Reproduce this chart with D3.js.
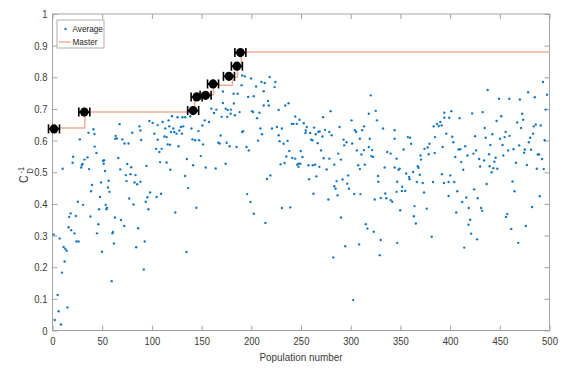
<!DOCTYPE html>
<html><head><meta charset="utf-8">
<script src="https://cdn.jsdelivr.net/npm/d3@7/dist/d3.min.js"></script>
<style>body{margin:0;background:#fff}svg{display:block}</style>
</head><body><svg id="c" width="579" height="372"></svg>
<script>
// ---------------- data ----------------
const xTicks = [0, 50, 100, 150, 200, 250, 300, 350, 400, 450, 500];
const yTicks = [0, 0.1, 0.2, 0.3, 0.4, 0.5, 0.6, 0.7, 0.8, 0.9, 1];
const yTickLabels = ["0", "0.1", "0.2", "0.3", "0.4", "0.5", "0.6", "0.7", "0.8", "0.9", "1"];
const xLabel = "Population number";
const legendLabels = ["Average", "Master"];

// "Average" series: [population number, C_D^-1]
const averageData = [
[2.2,0.033],[6.2,0.061],[8.5,0.019],[5.2,0.112],[15,0.073],[9.5,0.183],[12.2,0.218],[1.2,0.303],[7.2,0.291],[11.2,0.264],[12.8,0.258],[14.2,0.252],[10.2,0.511],[16.2,0.326],[18.8,0.317],[22.2,0.307],[18.2,0.37],[16.8,0.359],[23.5,0.362],[24.2,0.281],[26.2,0.281],[25.5,0.407],[30.8,0.397],[20.8,0.549],[20.2,0.53],[28.8,0.515],[29.5,0.523],[30.2,0.526],[32.2,0.54],[35.2,0.547],[36.8,0.51],[27.5,0.604],[36.2,0.625],[41.2,0.636],[42.2,0.621],[42.5,0.581],[44.2,0.561],[39.8,0.46],[38.8,0.44],[38.2,0.36],[46.2,0.336],[46.8,0.383],[44.8,0.307],[49.8,0.249],[59.5,0.156],[51.5,0.527],[50.8,0.536],[51.8,0.538],[52.8,0.504],[48.8,0.468],[56.5,0.473],[55.8,0.452],[57.2,0.438],[47.8,0.422],[53.5,0.397],[54.8,0.388],[54.2,0.383],[62.8,0.357],[60.2,0.307],[60.8,0.311],[61.8,0.275],[68.8,0.349],[72.2,0.33],[66.2,0.545],[68.2,0.509],[63.5,0.615],[64.8,0.607],[63.2,0.606],[67.5,0.652],[70.2,0.604],[72.5,0.591],[76.5,0.591],[80.2,0.625],[87.5,0.645],[88.5,0.632],[89.2,0.602],[75.2,0.526],[79.2,0.516],[73.8,0.491],[78.5,0.494],[83.5,0.491],[74.5,0.472],[82.5,0.468],[85.2,0.462],[88.5,0.47],[77.2,0.417],[81.5,0.398],[86.2,0.323],[84.2,0.263],[91.8,0.193],[92.8,0.281],[93.8,0.407],[95.5,0.421],[96.5,0.383],[94.5,0.52],[98.2,0.436],[97.5,0.662],
[100.8,0.656],[105.8,0.649],[110.8,0.659],[116.8,0.664],[120.2,0.677],[125.8,0.674],[130.8,0.674],[133.5,0.674],[138.5,0.677],[102.5,0.622],[113.5,0.638],[121.5,0.638],[122.5,0.627],[124.8,0.622],[129.2,0.643],[131.5,0.645],[130.2,0.622],[127.5,0.632],[139.8,0.638],[105.8,0.603],[104.2,0.574],[109.8,0.574],[112.5,0.613],[114.8,0.611],[115.8,0.588],[118.2,0.587],[126.8,0.582],[107.5,0.564],[108.2,0.532],[114.8,0.531],[118.5,0.508],[135.2,0.542],[141.5,0.522],[140.8,0.604],[143.5,0.601],[133.5,0.488],[136.5,0.45],[104.8,0.422],[109.2,0.432],[123.5,0.373],[144.8,0.388],[134.8,0.248],[117.5,0.645],[119.2,0.627],[146.8,0.63],
[190.8,0.806],[193.5,0.803],[190.2,0.775],[182.2,0.748],[186.2,0.748],[171.5,0.719],[196.8,0.738],[159.8,0.701],[164.8,0.698],[162.5,0.687],[174.2,0.701],[179.5,0.698],[179.2,0.685],[188.2,0.690],[153.2,0.664],[157.5,0.659],[170.2,0.675],[175.8,0.675],[183.5,0.68],[190.8,0.627],[191.8,0.63],[147.5,0.601],[151.5,0.588],[166.8,0.593],[168.2,0.591],[175.2,0.593],[185.2,0.58],[195.2,0.58],[149.2,0.551],[178.2,0.582],[174.2,0.527],[154.2,0.515],[164.2,0.512],[195.8,0.431],[171.5,0.755],[182.5,0.717],[150.8,0.648],[169.2,0.616],[176.2,0.697],
[199.8,0.796],[218.5,0.801],[210.2,0.785],[213.5,0.782],[224.2,0.785],[223.5,0.769],[204.8,0.771],[212.5,0.756],[202.5,0.74],[216.8,0.725],[217.5,0.711],[212.5,0.711],[234.2,0.711],[237.5,0.718],[227.5,0.697],[200.8,0.693],[201.8,0.69],[208.2,0.688],[205.8,0.671],[244.2,0.676],[248.5,0.666],[240.8,0.653],[242.5,0.653],[245.8,0.653],[252.8,0.655],[255.8,0.643],[254.8,0.632],[259.2,0.624],[263.2,0.641],[267.5,0.627],[268.8,0.629],[271.5,0.613],[274.2,0.634],[278.5,0.627],[280.8,0.617],[279.8,0.693],[272.2,0.674],[288.8,0.643],[292.8,0.603],[295.8,0.595],[293.5,0.585],[287.5,0.559],[290.2,0.54],[283.5,0.524],[275.8,0.509],[278.5,0.543],[272.8,0.544],[270.2,0.569],[266.8,0.592],[261.5,0.601],[264.8,0.62],[260.2,0.603],[254.5,0.624],[249.8,0.567],[251.5,0.548],[247.5,0.527],[249.2,0.527],[246.2,0.524],[247.5,0.517],[257.5,0.522],[261.8,0.522],[264.2,0.524],[268.5,0.517],[265.5,0.487],[258.2,0.478],[262.5,0.432],[277.5,0.414],[286.8,0.427],[285.8,0.472],[283.5,0.456],[284.8,0.448],[291.8,0.477],[296.5,0.464],[298.2,0.448],[297.5,0.49],[290.2,0.357],[294.5,0.266],[282.5,0.231],[197.5,0.569],[209.2,0.638],[210.8,0.62],[206.8,0.6],[220.8,0.638],[225.8,0.643],[230.8,0.638],[227.5,0.617],[228.5,0.598],[232.5,0.59],[236.5,0.599],[238.2,0.567],[235.2,0.55],[241.2,0.545],[244.2,0.543],[233.5,0.529],[229.5,0.525],[219.2,0.49],[215.8,0.479],[199.2,0.406],[202.5,0.369],[230.8,0.387],[239.2,0.389],[214.2,0.34],
[325.2,0.694],[300.8,0.664],[304.2,0.633],[311.5,0.633],[318.2,0.685],[326.5,0.664],[332.5,0.638],[344.2,0.633],[301.5,0.591],[309.2,0.606],[313.2,0.57],[318.2,0.58],[321.5,0.57],[310.8,0.556],[320.8,0.551],[336.8,0.564],[340.2,0.559],[346.2,0.543],[334.2,0.515],[344.2,0.515],[307.5,0.522],[309.2,0.51],[314.2,0.524],[303.5,0.431],[309.8,0.431],[327.5,0.488],[327.8,0.47],[330.2,0.419],[334.8,0.433],[335.8,0.418],[340.2,0.412],[341.8,0.407],[346.8,0.47],[346.2,0.438],[315.2,0.336],[316.8,0.322],[323.2,0.312],[330.2,0.286],[346.8,0.277],[308.5,0.272],[320.2,0.743],[329.2,0.238],[302.5,0.096],[313.5,0.645],[319.2,0.606],[322.5,0.548],[306.2,0.569],[344.2,0.606],[324.2,0.414],[305.5,0.627],
[348.2,0.508],[349.2,0.511],[349.8,0.38],[351.8,0.454],[351.5,0.441],[354.8,0.441],[353.2,0.572],[355.8,0.496],[357.5,0.611],[359.8,0.609],[358.8,0.485],[360.8,0.59],[359.2,0.478],[362.8,0.501],[364.2,0.393],[363.5,0.361],[365.5,0.338],[367.5,0.519],[368.2,0.514],[366.5,0.469],[370.2,0.553],[370.8,0.54],[369.5,0.492],[372.5,0.466],[373.8,0.436],[374.2,0.574],[376.5,0.385],[377.5,0.578],[378.5,0.557],[379.2,0.59],[381.5,0.296],[382.8,0.469],[383.5,0.645],[384.8,0.611],[384.5,0.561],[386.8,0.653],[388.5,0.646],[390.2,0.659],[391.5,0.648],[394.2,0.672],[392.5,0.58],[391.8,0.494],[393.8,0.466],[394.2,0.688],[396.2,0.622],[398.5,0.469],[398.5,0.425],[399.2,0.672],
[493.5,0.785],[497.5,0.745],[437.8,0.76],[478.5,0.753],[485.2,0.737],[449.2,0.732],[459.5,0.732],[470.2,0.73],[401.2,0.693],[422.2,0.686],[432.8,0.69],[496.2,0.698],[472.5,0.685],[451.5,0.677],[409.5,0.671],[446.8,0.662],[473.5,0.666],[467.5,0.657],[486.2,0.651],[484.2,0.645],[491.2,0.648],[434.8,0.64],[471.5,0.64],[455.8,0.627],[442.5,0.62],[435.8,0.609],[483.5,0.622],[402.2,0.612],[425.2,0.614],[459.8,0.615],[454.8,0.611],[450.2,0.606],[440.5,0.586],[452.8,0.586],[480.5,0.609],[479.2,0.595],[495.2,0.601],[403.2,0.595],[408.5,0.572],[410.2,0.573],[415.2,0.582],[426.2,0.569],[423.5,0.559],[417.5,0.553],[405.2,0.548],[463.8,0.573],[469.5,0.585],[475.2,0.572],[474.5,0.562],[481.5,0.571],[488.2,0.556],[489.5,0.556],[458.5,0.569],[439.2,0.557],[445.8,0.546],[453.5,0.553],[429.2,0.542],[434.2,0.537],[444.5,0.533],[466.2,0.53],[492.5,0.542],[411.2,0.532],[430.2,0.518],[439.8,0.519],[443.5,0.513],[447.5,0.511],[413.2,0.508],[477.2,0.523],[487.2,0.511],[494.2,0.51],[441.8,0.5],[400.2,0.49],[462.8,0.471],[404.2,0.469],[436.8,0.463],[424.2,0.446],[464.8,0.44],[407.2,0.44],[490.2,0.424],[416.2,0.42],[412.2,0.406],[427.8,0.418],[431.2,0.387],[432.2,0.378],[418.8,0.387],[406.2,0.373],[482.5,0.39],[457.5,0.368],[456.2,0.359],[420.2,0.35],[418.5,0.334],[476.2,0.33],[461.5,0.321],[421.2,0.306],[427.2,0.288],[468.5,0.277],[414.2,0.262]
];

// "Master" step line
const masterStepX = [0, 32.5, 143, 155, 162, 181, 186, 190, 500];
const masterStepY = [0.64, 0.69, 0.74, 0.745, 0.775, 0.80, 0.835, 0.88, 0.88];
// black master markers
const bestX = [1.5, 32, 141.5, 145, 154, 161.5, 177.5, 185.5, 189];
const bestY = [0.637, 0.69, 0.695, 0.738, 0.743, 0.779, 0.803, 0.835, 0.878];

// ---------------- drawing ----------------
const W = 579, H = 372;
const L = 52.5, R = 549.5, T = 14, B = 330.5;
const svg = d3.select('#c');
const x = d3.scaleLinear().domain([0, 500]).range([L, R]);
const y = d3.scaleLinear().domain([0, 1]).range([B, T]);
const axisCol = '#a3a3a3', textCol = '#3a3a3a';
const font = '"Liberation Sans", Arial, Helvetica, sans-serif';

svg.append('rect').attr('width', W).attr('height', H).attr('fill', '#fff');

function styleAxis(g, showText) {
  g.select('.domain').remove();
  g.selectAll('.tick line').attr('stroke', axisCol).attr('stroke-width', 1);
  g.selectAll('.tick text').attr('fill', textCol).attr('font-family', font).attr('font-size', 11);
  if (!showText) g.selectAll('.tick text').remove();
}
const gx = svg.append('g').attr('transform', `translate(0,${B})`)
  .call(d3.axisBottom(x).tickValues(xTicks).tickSize(-5).tickSizeOuter(0).tickPadding(7).tickFormat(d3.format('d')));
styleAxis(gx, true);
const gxt = svg.append('g').attr('transform', `translate(0,${T})`)
  .call(d3.axisTop(x).tickValues(xTicks).tickSize(-5).tickSizeOuter(0));
styleAxis(gxt, false);
const gy = svg.append('g').attr('transform', `translate(${L},0)`)
  .call(d3.axisLeft(y).tickValues(yTicks).tickSize(-5).tickSizeOuter(0).tickPadding(5).tickFormat((d, i) => yTickLabels[i]));
styleAxis(gy, true);
const gyr = svg.append('g').attr('transform', `translate(${R},0)`)
  .call(d3.axisRight(y).tickValues(yTicks).tickSize(-5).tickSizeOuter(0));
styleAxis(gyr, false);

svg.append('rect').attr('x', L).attr('y', T).attr('width', R - L).attr('height', B - T)
  .attr('fill', 'none').attr('stroke', axisCol).attr('stroke-width', 1);

// scatter
svg.append('g').selectAll('circle').data(averageData).join('circle')
  .attr('cx', d => x(d[0])).attr('cy', d => y(d[1])).attr('r', 1.2)
  .attr('fill', '#1a78c2');

// master line
const stepPts = masterStepX.map((v, i) => [v, masterStepY[i]]);
svg.append('path').datum(stepPts)
  .attr('d', d3.line().x(d => x(d[0])).y(d => y(d[1])).curve(d3.curveStepAfter))
  .attr('fill', 'none').attr('stroke', '#f2ad95').attr('stroke-width', 1.5);

// master markers
const mk = svg.append('g').selectAll('g').data(bestX.map((v, i) => [v, bestY[i]])).join('g')
  .attr('transform', d => `translate(${x(d[0])},${y(d[1])})`);
mk.append('line').attr('x1', -5.5).attr('x2', 5.5).attr('y1', 0).attr('y2', 0).attr('stroke', '#000').attr('stroke-width', 2);
mk.append('line').attr('x1', -5.5).attr('x2', -5.5).attr('y1', -4.5).attr('y2', 4.5).attr('stroke', '#000').attr('stroke-width', 1.6);
mk.append('line').attr('x1', 5.5).attr('x2', 5.5).attr('y1', -4.5).attr('y2', 4.5).attr('stroke', '#000').attr('stroke-width', 1.6);
mk.append('ellipse').attr('cx', 0).attr('cy', 0).attr('rx', 4.3).attr('ry', 4.6).attr('fill', '#000');

// legend
const lg = svg.append('g');
lg.append('rect').attr('x', 57).attr('y', 20).attr('width', 47).attr('height', 28)
  .attr('fill', '#fff').attr('stroke', '#9a9a9a').attr('stroke-width', 0.8);
lg.append('circle').attr('cx', 65.5).attr('cy', 29).attr('r', 1.2).attr('fill', '#1a78c2');
lg.append('line').attr('x1', 59).attr('x2', 70.5).attr('y1', 42).attr('y2', 42).attr('stroke', '#f2ad95').attr('stroke-width', 1.5);
lg.append('text').attr('x', 72.5).attr('y', 32).text(legendLabels[0])
  .attr('font-family', font).attr('font-size', 9.5).attr('fill', '#262626');
lg.append('text').attr('x', 72.5).attr('y', 45).text(legendLabels[1])
  .attr('font-family', font).attr('font-size', 9.5).attr('fill', '#262626');

// x label
svg.append('text').attr('x', (L + R) / 2).attr('y', 361).attr('text-anchor', 'middle')
  .attr('font-family', font).attr('font-size', 11.5).attr('fill', textCol).text(xLabel);

// y label  C_D^-1
const yl = svg.append('g').attr('transform', 'translate(28,183) rotate(-90)')
  .attr('font-family', font).attr('fill', textCol);
yl.append('text').attr('x', 0).attr('y', 0).attr('font-size', 12.5).text('C');
yl.append('text').attr('x', 9.5).attr('y', -4.5).attr('font-size', 8.5).text('-1');
yl.append('text').attr('x', 9.5).attr('y', 5).attr('font-size', 8.5).text('D');

// slight horizontal condensing of text to match the reference
svg.selectAll('text').each(function () {
  const n = this; const len = n.getComputedTextLength();
  if (len > 0) d3.select(n).attr('textLength', len * 0.86).attr('lengthAdjust', 'spacingAndGlyphs');
});
</script>
</body></html>
